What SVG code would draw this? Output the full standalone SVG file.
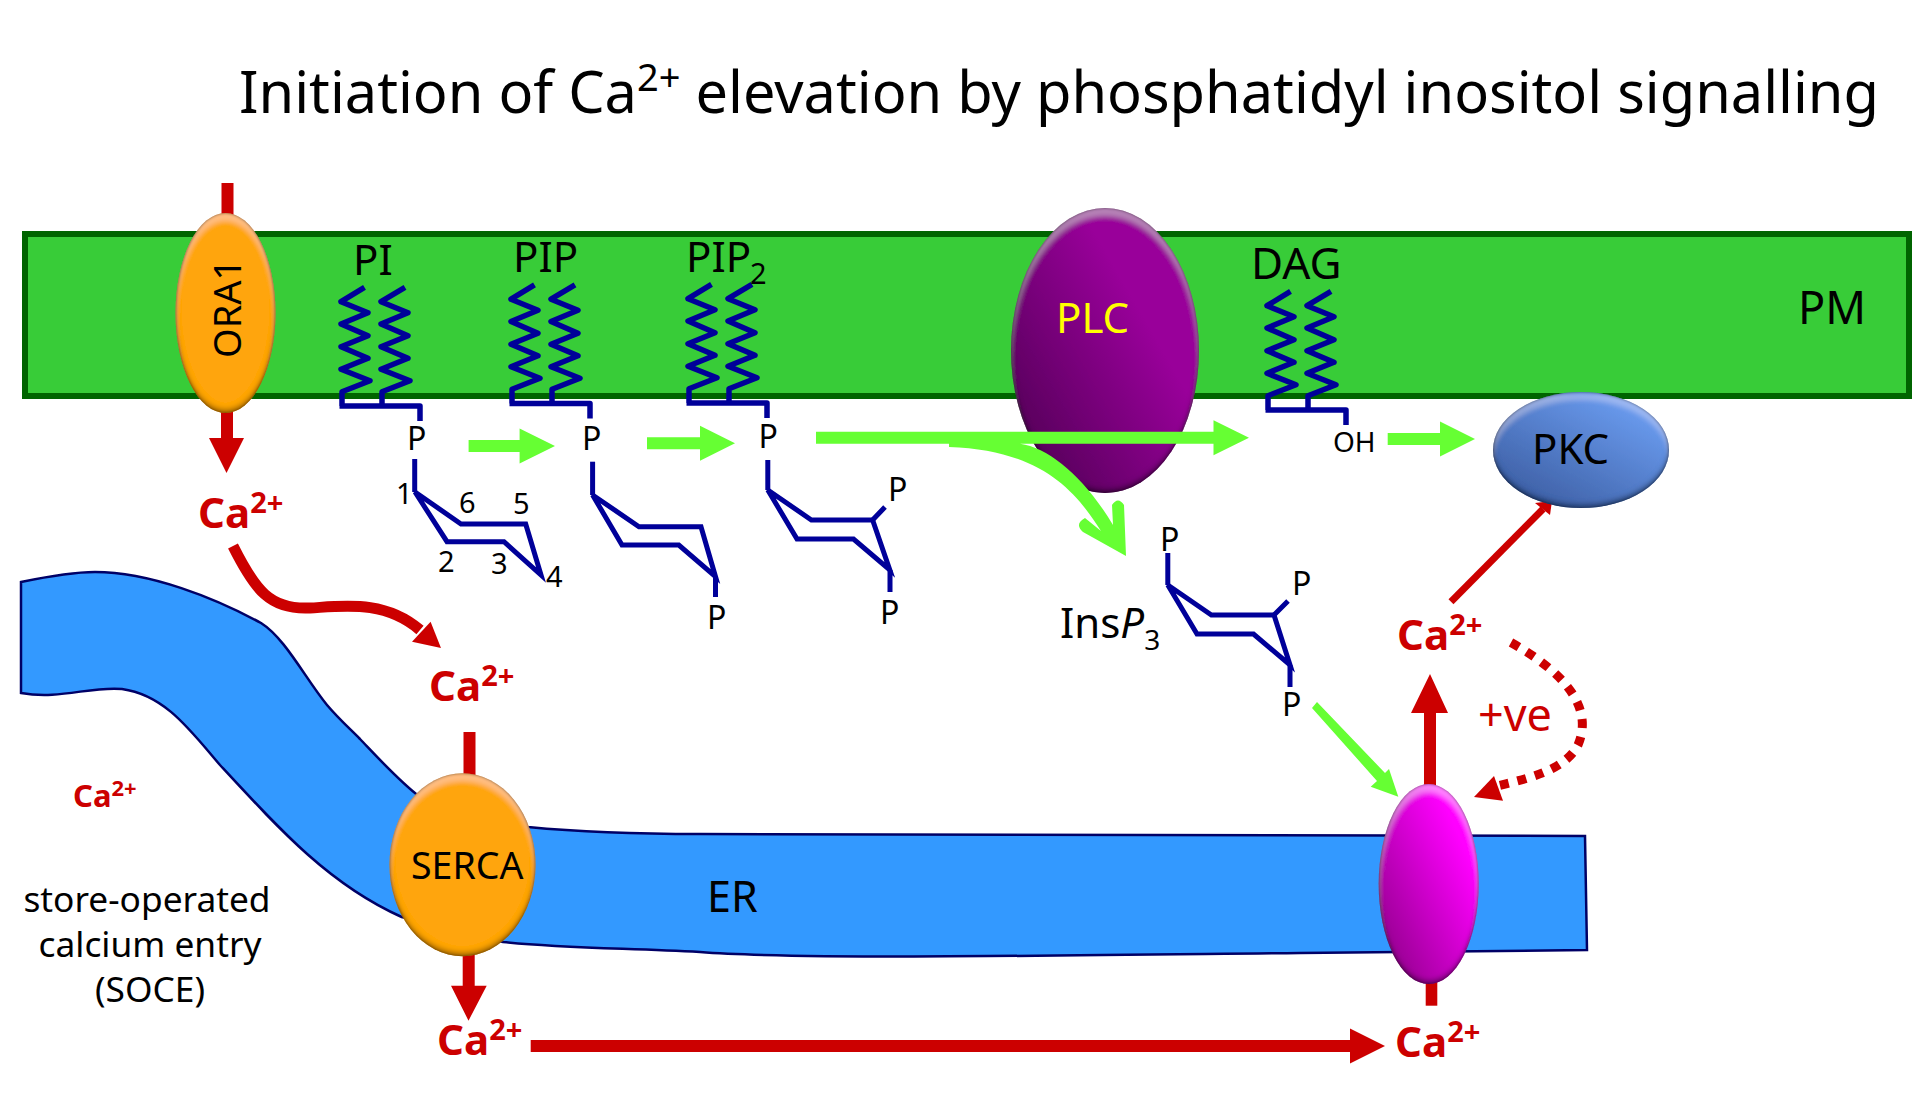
<svg xmlns="http://www.w3.org/2000/svg" xmlns:xlink="http://www.w3.org/1999/xlink" width="1919" height="1101" viewBox="0 0 1919 1101">
<style>
text{font-family:"Noto Sans","Open Sans","Liberation Sans",sans-serif;fill:#000}
.lbl{font-size:42px}
.p{font-size:32px}
.num{font-size:29px}
.ca{font-size:42px;font-weight:700;fill:#c00}
.ca tspan{font-size:29px}
.mol{fill:none;stroke:#009;stroke-width:5;stroke-linejoin:miter}
.tail{fill:none;stroke:#009;stroke-width:5.500;stroke-linejoin:round}
.red{fill:#c00;stroke:none}
.grn{fill:#6f3;stroke:none}
</style>
<defs>
<filter id="bevel" x="-5%" y="-5%" width="110%" height="110%">
<feComponentTransfer in="SourceAlpha" result="inv"><feFuncA type="table" tableValues="1 0"/></feComponentTransfer>
<feOffset in="inv" dy="-4" result="o1"/><feGaussianBlur in="o1" stdDeviation="2.5" result="b1"/>
<feFlood flood-color="#000" flood-opacity=".6"/><feComposite in2="b1" operator="in"/><feComposite in2="SourceAlpha" operator="in" result="dark"/>
<feOffset in="inv" dy="8" result="o2"/><feGaussianBlur in="o2" stdDeviation="2.5" result="b2"/>
<feFlood flood-color="#fff" flood-opacity=".22"/><feComposite in2="b2" operator="in"/><feComposite in2="SourceAlpha" operator="in" result="light"/>
<feGaussianBlur in="inv" stdDeviation="1.5" result="b3"/>
<feFlood flood-color="#000" flood-opacity=".95"/><feComposite in2="b3" operator="in"/><feComposite in2="SourceAlpha" operator="in" result="rim"/>
<feMerge><feMergeNode in="SourceGraphic"/><feMergeNode in="light"/><feMergeNode in="dark"/><feMergeNode in="rim"/></feMerge>
</filter>
<linearGradient id="plcFill" x1="0.1" y1="0.9" x2="0.9" y2="0.2"><stop offset="0" stop-color="#540058"/><stop offset=".75" stop-color="#99009a"/></linearGradient>
<linearGradient id="pkcFill" x1="0.15" y1="0.95" x2="0.85" y2="0.1"><stop offset="0" stop-color="#3c5da2"/><stop offset="1" stop-color="#6c9ef2"/></linearGradient>
<linearGradient id="chanFill" x1="0.1" y1="0.9" x2="0.8" y2="0.25"><stop offset="0" stop-color="#94008e"/><stop offset="1" stop-color="#f0f"/></linearGradient>
<path id="tails" d="M364.500,287.300 L341,301.700 L368,312.700 L341,324 L368,335.700 L341,346.700 L368,358.300 L341,369.300 L370,380.700 L342,391.700 L342,406 M405,287.300 L381,301.700 L408,312.700 L381,324 L408,335.700 L381,346.700 L408,358.300 L381,369.300 L410,380.700 L382,391.700 L382,406 M339.500,406 H420 V421"/>
</defs>

<rect id="membrane" x="25" y="234" width="1884" height="162" fill="#38cc38" stroke="#006400" stroke-width="6"/>

<g id="er">
<path d="M21,582 C50,576 75,572 95,572 C150,572 215,598 261,623 C285,638 305,678 327,705 C338,718 348,727 360,739 C380,760 400,782 420,797 L528,827 C580,832 640,834 700,834 L1585,836 L1587,950 L1300,953 C1100,955 800,960 700,952 C620,948 560,948 503,942 L401.700,917 C330,885 280,830 220,765 C190,730 165,695 122,689 C90,686 60,700 21,693 Z" fill="#39f" stroke="#006" stroke-width="2.500"/>
<text class="lbl" style="font-size:43px" x="707" y="912">ER</text>
</g>

<g id="connectors">
<rect class="red" x="221.500" y="183" width="12" height="32"/>
<path class="red" d="M221,411 H233 V438 H244 L226.500,473 L209,438 H221 Z"/>
<path d="M233,546 C255,590 270,610 310,608 C345,606 385,600 420,630" fill="none" stroke="#c00" stroke-width="11"/>
<path class="red" d="M441,648 L412,641.700 L430.600,621.700 Z"/>
<rect class="red" x="463.500" y="732" width="12" height="43"/>
<path class="red" d="M462.700,954 H474.700 V985.700 H486.700 L468.500,1020.700 L451,985.700 H462.700 Z"/>
<path class="red" d="M530.700,1040 H1350 V1028.500 L1385,1046 L1350,1063.500 V1052 H530.700 Z"/>
<rect class="red" x="1425.700" y="980" width="11.600" height="25.700"/>
<path class="red" d="M1424,786 V713 H1411 L1430,674 L1448,713 H1436 V786 Z"/>
<path d="M1451,601.700 L1543,509" fill="none" stroke="#c00" stroke-width="7"/>
<path class="red" d="M1552,501 L1535,503 L1550,515 Z"/>
<path d="M1511,642.500 C1560,670 1595,705 1578,745 C1565,770 1530,778 1497,786" fill="none" stroke="#c00" stroke-width="9" stroke-dasharray="9 9"/>
<path class="red" d="M1474,797 L1494,776 L1503,800.700 Z"/>
<path class="grn" d="M468.600,440 H519.600 V428.500 L555,446 L519.600,463.500 V452 H468.600 Z"/>
<path class="grn" d="M647,437.300 H700 V425.800 L735,443.300 L700,460.800 V449.300 H647 Z"/>
<path class="grn" d="M1387.700,433 H1440 V421.500 L1475,439 L1440,456.500 V445 H1387.700 Z"/>
<path class="grn" d="M1312,708 L1317,702 L1385,773 L1389,769 L1398.300,796.700 L1370.700,786.700 L1377,781 Z"/>
</g>

<g id="node-ora1">
<ellipse cx="225.500" cy="313" rx="50" ry="100" fill="#ffa508" filter="url(#bevel)"/>
<text style="font-size:38px" transform="translate(241,358) rotate(-90)">ORA1</text>
</g>
<g id="node-serca">
<ellipse cx="462.500" cy="864.700" rx="73" ry="91.500" fill="#ffa508" filter="url(#bevel)"/>
<text style="font-size:37.500px" x="411" y="879">SERCA</text>
</g>
<g id="node-plc">
<ellipse cx="1105" cy="350.500" rx="94" ry="142.500" fill="url(#plcFill)" filter="url(#bevel)"/>
<text class="lbl" style="fill:#ff0" x="1056" y="333">PLC</text>
</g>
<g id="node-pkc">
<ellipse cx="1581" cy="450" rx="88" ry="58" fill="url(#pkcFill)" filter="url(#bevel)"/>
<text class="lbl" x="1532" y="464">PKC</text>
</g>
<g id="node-ip3-channel">
<ellipse cx="1428.700" cy="884" rx="50" ry="100" fill="url(#chanFill)" filter="url(#bevel)"/>
</g>

<g id="green-branch">
<path class="grn" d="M816,431.700 H1213.500 V420.200 L1249,437.700 L1213.500,455.200 V443.700 H1020 C1050,448 1085,478 1113,525 L1112,505 Q1118,496 1124,505 L1126,556 L1083,532 Q1074,524 1085,518 L1101,531 C1075,490 1040,450 949,447 V443.700 H816 Z"/>
</g>

<g id="node-pi">
<use href="#tails" class="tail"/>
<text class="lbl" x="353" y="275">PI</text>
<text class="p" x="407" y="450">P</text>
<path class="mol" d="M414.700,459 V492"/>
<path class="mol" d="M415,492 L461,524 H525.700 L541,575 L504,541.700 H447 Z"/>
<text class="num" x="396" y="504">1</text><text class="num" x="459" y="513">6</text><text class="num" x="513" y="514">5</text>
<text class="num" x="438" y="572">2</text><text class="num" x="491" y="574">3</text><text class="num" x="546" y="587">4</text>
</g>
<g id="node-pip">
<use href="#tails" class="tail" x="170" y="-2.500"/>
<text class="lbl" x="513" y="272">PIP</text>
<text class="p" x="582" y="450">P</text>
<path class="mol" d="M592.600,461.700 V495"/>
<path class="mol" d="M592.600,495 L639,526.700 H701 L715.500,576.700 L678.800,545 H622 Z"/>
<path class="mol" d="M715.500,576 V597"/>
<text class="p" x="707" y="629">P</text>
</g>
<g id="node-pip2">
<use href="#tails" class="tail" x="347" y="-3"/>
<text class="lbl" x="686" y="271.700">PIP</text>
<text class="num" x="750" y="284">2</text>
<text class="p" x="758.500" y="448">P</text>
<path class="mol" d="M767.800,460 V490"/>
<path class="mol" d="M767.800,490 L811.400,520 H872.600 L889.800,570 L853.500,539 H797 Z"/>
<path class="mol" d="M872.600,520 L885,507 M890,570 V592"/>
<text class="p" x="888" y="500.700">P</text>
<text class="p" x="880" y="624">P</text>
</g>
<g id="node-dag">
<use href="#tails" class="tail" x="926" y="4"/>
<text class="lbl" style="font-size:44px" x="1251" y="279">DAG</text>
<text x="1333" y="451.700" style="font-size:28px">OH</text>
</g>
<g id="node-insp3">
<text class="p" x="1160" y="551">P</text>
<path class="mol" d="M1167.800,553 V585"/>
<path class="mol" d="M1167.800,585 L1211.400,615 H1274 L1290,665 L1253.500,634 H1197 Z"/>
<path class="mol" d="M1274,615 L1288,601 M1290,665 V687"/>
<text class="p" x="1292" y="595">P</text>
<text class="p" x="1282" y="716">P</text>
<text class="lbl" x="1060" y="638">Ins<tspan font-style="italic">P</tspan><tspan style="font-size:28px" dy="12">3</tspan></text>
</g>

<g id="calcium-labels">
<text class="ca" x="198" y="528">Ca<tspan dy="-15">2+</tspan></text>
<text class="ca" x="429" y="701">Ca<tspan dy="-15">2+</tspan></text>
<text class="ca" x="437" y="1055">Ca<tspan dy="-15">2+</tspan></text>
<text class="ca" x="1395" y="1057">Ca<tspan dy="-15">2+</tspan></text>
<text class="ca" x="1397" y="650">Ca<tspan dy="-15">2+</tspan></text>
<text class="ca" style="font-size:31px" x="73" y="807">Ca<tspan style="font-size:22px" dy="-11">2+</tspan></text>
</g>

<text id="plus-ve" x="1478" y="731" style="font-size:45px;fill:#c00">+ve</text>
<text id="pm-label" style="font-size:45px" x="1798" y="324">PM</text>
<g id="soce-label" style="font-size:35.300px;text-anchor:middle">
<text x="147" y="912">store-operated</text>
<text x="150" y="957">calcium entry</text>
<text x="150" y="1002">(SOCE)</text>
</g>
<text id="title" x="239" y="112.600" style="font-size:57.700px">Initiation of Ca<tspan style="font-size:38px" dy="-22">2+</tspan><tspan dy="22"> elevation by phosphatidyl inositol signalling</tspan></text>
</svg>
